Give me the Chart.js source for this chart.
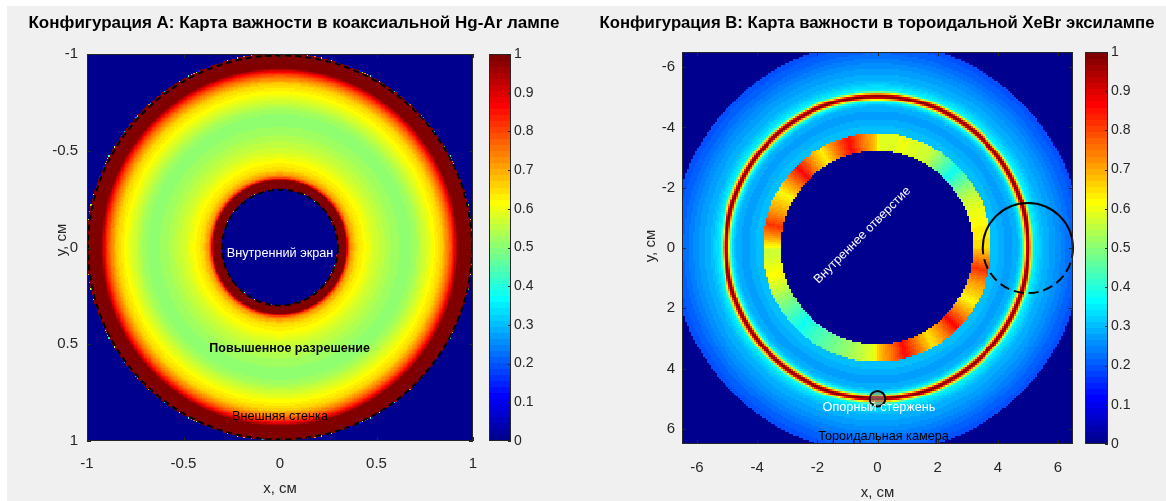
<!DOCTYPE html>
<html>
<head>
<meta charset="utf-8">
<script src="https://cdn.jsdelivr.net/npm/chart.js@4.4.0/dist/chart.umd.min.js"></script>
<style>
    body { margin: 0; background: #ffffff; width: 1166px; height: 501px; overflow: hidden; }
    #figure { position: absolute; left: 7px; top: 6px; right: 0; bottom: 0; background: #f0f0f0; }
    canvas { position: absolute; left: 0; top: 0; }
</style>
</head>
<body>
<div id="figure"></div>
<canvas id="panelA" width="1166" height="501"></canvas>
<canvas id="barA" width="1166" height="501"></canvas>
<canvas id="panelB" width="1166" height="501"></canvas>
<canvas id="barB" width="1166" height="501"></canvas>
<script>
// Importance maps - coaxial Hg-Ar lamp (A) and toroidal XeBr excilamp (B)

// Axis ticks
const ticksA = [-1, -0.5, 0, 0.5, 1];
const ticksB = [-6, -4, -2, 0, 2, 4, 6];
const colorbarTicks = [0, 0.1, 0.2, 0.3, 0.4, 0.5, 0.6, 0.7, 0.8, 0.9, 1];

// Config A: importance vs radius, cm
const radiusA = [0, 0.299, 0.3, 0.345, 0.355, 0.37, 0.4, 0.45, 0.5, 0.58, 0.65, 0.7, 0.78, 0.84, 0.875, 0.9, 0.915, 0.925, 1.0, 1.001];
const importanceA = [0, 0, 1, 1, 0.82, 0.72, 0.65, 0.61, 0.57, 0.53, 0.505, 0.52, 0.6, 0.66, 0.75, 0.84, 0.93, 1, 1, 0];

// Config B: importance vs radius outside the inner ring, cm
const radiusB = [0, 3.8, 3.801, 4.0, 4.4, 4.7, 4.82, 4.88, 4.93, 4.97, 5.0, 5.03, 5.07, 5.11, 5.16, 5.22, 5.5, 6.0, 6.4, 6.8, 6.801];
const importanceB = [0, 0, 0.31, 0.3, 0.27, 0.3, 0.36, 0.5, 0.7, 0.9, 1, 1, 0.9, 0.7, 0.5, 0.36, 0.3, 0.26, 0.22, 0.19, 0];

// Config B: inner ring (3.2 - 3.8 cm), importance vs angle, degrees
const ringB = [3.2, 3.8];
const ringAngleB = [0, 10, 20, 30, 40, 45, 50, 60, 75, 89, 90, 98, 105, 112, 120, 128, 135, 142, 150, 161, 168, 175, 182, 195, 210, 225, 240, 255, 269, 270, 278, 285, 292, 300, 308, 315, 322, 330, 341, 348, 355, 360];
const ringImportanceB = [0.65, 0.63, 0.6, 0.55, 0.44, 0.38, 0.44, 0.56, 0.6, 0.58, 0.66, 0.76, 0.86, 0.76, 0.63, 0.74, 0.86, 0.74, 0.62, 0.72, 0.82, 0.7, 0.56, 0.62, 0.5, 0.38, 0.45, 0.52, 0.6, 0.66, 0.76, 0.86, 0.76, 0.64, 0.74, 0.86, 0.74, 0.62, 0.72, 0.82, 0.72, 0.65];

const FONT = '"Liberation Sans", Arial, sans-serif';
const INK = '#262626';

// MATLAB jet(64)
function buildJet(m) {
    const n = Math.ceil(m / 4);
    const u = [];
    for (let i = 1; i <= n; i++) u.push(i / n);
    for (let i = 1; i < n; i++) u.push(1);
    for (let i = n; i >= 1; i--) u.push(i / n);
    const g0 = Math.ceil(n / 2) - (m % 4 === 1 ? 1 : 0);
    const rgb = Array.from({ length: m }, () => [0, 0, 0]);
    u.forEach((val, k) => {
        const g = g0 + k + 1;
        const r = g + n;
        const b = g - n;
        if (g >= 1 && g <= m) rgb[g - 1][1] = val;
        if (r >= 1 && r <= m) rgb[r - 1][0] = val;
        if (b >= 1 && b <= m) rgb[b - 1][2] = val;
    });
    return rgb.map(c => `rgb(${Math.round(c[0] * 255)},${Math.round(c[1] * 255)},${Math.round(c[2] * 255)})`);
}
const jet = buildJet(64);
const colorFor = (v) => jet[Math.min(63, Math.max(0, Math.floor(v * 64)))];

function lookup(xs, ys, x) {
    if (x <= xs[0]) return ys[0];
    for (let i = 1; i < xs.length; i++) {
        if (x <= xs[i]) {
            const t = (x - xs[i - 1]) / (xs[i] - xs[i - 1]);
            return ys[i - 1] + t * (ys[i] - ys[i - 1]);
        }
    }
    return ys[ys.length - 1];
}

function importanceAt_A(x, y) {
    return lookup(radiusA, importanceA, Math.hypot(x, y));
}

function importanceAt_B(x, y) {
    const r = Math.hypot(x, y);
    if (r >= ringB[0] && r <= ringB[1]) {
        let deg = Math.atan2(-y, x) * 180 / Math.PI;
        if (deg < 0) deg += 360;
        return lookup(ringAngleB, ringImportanceB, deg);
    }
    return lookup(radiusB, importanceB, r);
}

// Heatmap cells drawn through the chart scales
function heatmapPlugin(limit, cells, valueAt) {
    return {
        id: 'heatmap',
        beforeDatasetsDraw(chart) {
            const { ctx, chartArea: a, scales: { x, y } } = chart;
            const step = 2 * limit / cells;
            ctx.save();
            ctx.beginPath();
            ctx.rect(a.left, a.top, a.width, a.height);
            ctx.clip();
            for (let i = 0; i < cells; i++) {
                const x0 = -limit + i * step;
                const px0 = Math.floor(x.getPixelForValue(x0));
                const px1 = Math.ceil(x.getPixelForValue(x0 + step));
                for (let j = 0; j < cells; j++) {
                    const y0 = -limit + j * step;
                    const pa = y.getPixelForValue(y0);
                    const pb = y.getPixelForValue(y0 + step);
                    const top = Math.floor(Math.min(pa, pb));
                    const bottom = Math.ceil(Math.max(pa, pb));
                    ctx.fillStyle = colorFor(valueAt(x0 + step / 2, y0 + step / 2));
                    ctx.fillRect(px0, top, px1 - px0, bottom - top);
                }
            }
            ctx.restore();
        }
    };
}

// Box with inward ticks, like MATLAB axes
const framePlugin = {
    id: 'frame',
    afterDraw(chart) {
        const { ctx, chartArea: a, scales } = chart;
        ctx.save();
        ctx.strokeStyle = INK;
        ctx.lineWidth = 1;
        ctx.strokeRect(a.left + 0.5, a.top + 0.5, a.width - 1, a.height - 1);
        ctx.beginPath();
        if (scales.x.options.display) {
            scales.x.ticks.forEach(t => {
                const px = Math.round(scales.x.getPixelForValue(t.value)) + 0.5;
                ctx.moveTo(px, a.bottom); ctx.lineTo(px, a.bottom - 4);
                ctx.moveTo(px, a.top); ctx.lineTo(px, a.top + 4);
            });
            scales.y.ticks.forEach(t => {
                const py = Math.round(scales.y.getPixelForValue(t.value)) + 0.5;
                ctx.moveTo(a.left, py); ctx.lineTo(a.left + 4, py);
                ctx.moveTo(a.right, py); ctx.lineTo(a.right - 4, py);
            });
        } else {
            scales.y.ticks.forEach(t => {
                const py = Math.round(scales.y.getPixelForValue(t.value)) + 0.5;
                ctx.moveTo(a.right, py); ctx.lineTo(a.right - 3, py);
            });
        }
        ctx.stroke();
        ctx.restore();
    }
};

// Titles, axis labels, annotations and outline circles
function decorPlugin(d) {
    return {
        id: 'decor',
        afterDatasetsDraw(chart) {
            const { ctx, scales: { x, y } } = chart;
            const ux = Math.abs(x.getPixelForValue(1) - x.getPixelForValue(0));
            ctx.save();
            ctx.textAlign = 'center';
            ctx.textBaseline = 'middle';

            (d.circles || []).forEach(c => {
                const cx = x.getPixelForValue(c.x);
                const cy = y.getPixelForValue(c.y);
                const r = c.r * ux;
                ctx.lineWidth = c.width;
                ctx.strokeStyle = '#000000';
                if (c.fill) {
                    ctx.fillStyle = c.fill;
                    ctx.beginPath(); ctx.arc(cx, cy, r, 0, 2 * Math.PI); ctx.fill();
                }
                if (c.halfDash) {
                    ctx.setLineDash([]);
                    ctx.beginPath(); ctx.arc(cx, cy, r, Math.PI, 2 * Math.PI); ctx.stroke();
                    ctx.setLineDash(c.halfDash);
                    ctx.beginPath(); ctx.arc(cx, cy, r, 0, Math.PI); ctx.stroke();
                } else {
                    ctx.setLineDash(c.dash || []);
                    ctx.beginPath(); ctx.arc(cx, cy, r, 0, 2 * Math.PI); ctx.stroke();
                }
            });
            ctx.setLineDash([]);

            d.notes.forEach(n => {
                ctx.save();
                ctx.translate(x.getPixelForValue(n.x), y.getPixelForValue(n.y));
                if (n.angle) ctx.rotate(-n.angle * Math.PI / 180);
                ctx.font = `${n.bold ? 'bold ' : ''}${n.size}px ${FONT}`;
                ctx.fillStyle = n.color;
                ctx.fillText(n.text, 0, 0);
                ctx.restore();
            });

            ctx.fillStyle = '#000000';
            ctx.font = `bold ${d.titleSize}px ${FONT}`;
            ctx.fillText(d.title, d.titleX, 23);

            ctx.fillStyle = INK;
            ctx.font = `15px ${FONT}`;
            ctx.fillText('x, см', x.getPixelForValue(0), d.xLabelY);
            ctx.save();
            ctx.translate(d.yLabelX, d.yLabelY);
            ctx.rotate(-Math.PI / 2);
            ctx.fillText('y, см', 0, 0);
            ctx.restore();
            ctx.restore();
        }
    };
}

function axisTicks(values) {
    return (scale) => { scale.ticks = values.map(v => ({ value: v })); };
}

function createPanel(id, p) {
    new Chart(document.getElementById(id), {
        type: 'scatter',
        data: { datasets: [] },
        options: {
            responsive: false,
            animation: false,
            events: [],
            layout: { padding: p.padding },
            plugins: { legend: { display: false }, tooltip: { enabled: false } },
            scales: {
                x: {
                    type: 'linear', min: -p.limit, max: p.limit,
                    afterBuildTicks: axisTicks(p.ticks),
                    afterFit: (s) => { s.height = p.xAxisHeight; },
                    grid: { display: false, drawTicks: false },
                    border: { display: false },
                    ticks: { padding: p.xPad, color: INK, font: { family: FONT, size: 15 }, maxRotation: 0, autoSkip: false, callback: (v) => String(v) }
                },
                y: {
                    type: 'linear', min: -p.limit, max: p.limit, reverse: true,
                    afterBuildTicks: axisTicks(p.ticks),
                    afterFit: (s) => { s.width = p.yAxisWidth; },
                    grid: { display: false, drawTicks: false },
                    border: { display: false },
                    ticks: { padding: p.yPad, color: INK, font: { family: FONT, size: 15 }, autoSkip: false, callback: (v) => String(v) }
                }
            }
        },
        plugins: [heatmapPlugin(p.limit, p.cells, p.valueAt), decorPlugin(p.decor), framePlugin]
    });
}

function colorbarPlugin() {
    return {
        id: 'colorbar',
        beforeDatasetsDraw(chart) {
            const { ctx, chartArea: a, scales: { y } } = chart;
            jet.forEach((c, k) => {
                const top = Math.floor(y.getPixelForValue((k + 1) / 64));
                const bottom = Math.ceil(y.getPixelForValue(k / 64));
                ctx.fillStyle = c;
                ctx.fillRect(a.left, top, a.width, bottom - top);
            });
        }
    };
}

function createColorbar(id, padding) {
    new Chart(document.getElementById(id), {
        type: 'scatter',
        data: { datasets: [] },
        options: {
            responsive: false,
            animation: false,
            events: [],
            layout: { padding },
            plugins: { legend: { display: false }, tooltip: { enabled: false } },
            scales: {
                x: { display: false, min: 0, max: 1 },
                y: {
                    position: 'right', min: 0, max: 1,
                    afterBuildTicks: axisTicks(colorbarTicks),
                    afterFit: (s) => { s.width = 40; },
                    grid: { display: false, drawTicks: false },
                    border: { display: false },
                    ticks: { padding: 3, color: INK, font: { family: FONT, size: 14 }, autoSkip: false, callback: (v) => String(v) }
                }
            }
        },
        plugins: [colorbarPlugin(), framePlugin]
    });
}

createPanel('panelA', {
    limit: 1, cells: 300, ticks: ticksA, valueAt: importanceAt_A,
    padding: { left: 0, top: 54, right: 693, bottom: 0 },
    xAxisHeight: 60, yAxisWidth: 87, xPad: 14, yPad: 9,
    decor: {
        title: 'Конфигурация А: Карта важности в коаксиальной Hg-Ar лампе', titleX: 294, titleSize: 17,
        xLabelY: 489, yLabelX: 62, yLabelY: 240,
        circles: [
            { x: 0, y: 0, r: 0.3, width: 2, dash: [6, 4] },
            { x: 0, y: 0, r: 0.995, width: 2, dash: [6, 4] }
        ],
        notes: [
            { text: 'Внутренний экран', x: 0, y: 0.03, size: 12.7, color: '#ffffff' },
            { text: 'Повышенное разрешение', x: 0.05, y: 0.52, size: 12.5, bold: true, color: '#000000' },
            { text: 'Внешняя стенка', x: 0, y: 0.875, size: 12.7, color: '#000000' }
        ]
    }
});

createColorbar('barA', { left: 489, top: 54, right: 1166 - 511 - 40, bottom: 60 });

createPanel('panelB', {
    limit: 6.5, cells: 200, ticks: ticksB, valueAt: importanceAt_B,
    padding: { left: 682 - 87, top: 52, right: 1166 - 1073, bottom: 0 },
    xAxisHeight: 57, yAxisWidth: 87, xPad: 15, yPad: 7,
    decor: {
        title: 'Конфигурация B: Карта важности в тороидальной XeBr эксилампе', titleX: 877, titleSize: 16.7,
        xLabelY: 493, yLabelX: 651, yLabelY: 246,
        circles: [
            { x: 5, y: 0, r: 1.5, width: 2, halfDash: [10, 5] },
            { x: 0, y: 5, r: 0.26, width: 2, fill: 'rgba(128,128,128,0.55)' }
        ],
        notes: [
            { text: 'Внутреннее отверстие', x: -0.5, y: -0.42, size: 12.5, color: '#ffffff', angle: 45 },
            { text: 'Опорный стержень', x: 0.05, y: 5.3, size: 12.7, color: '#ffffff' },
            { text: 'Тороидальная камера', x: 0.2, y: 6.25, size: 12.7, color: '#000000' }
        ]
    }
});

createColorbar('barB', { left: 1085, top: 52, right: 1166 - 1108 - 40, bottom: 57 });
</script>
</body>
</html>
